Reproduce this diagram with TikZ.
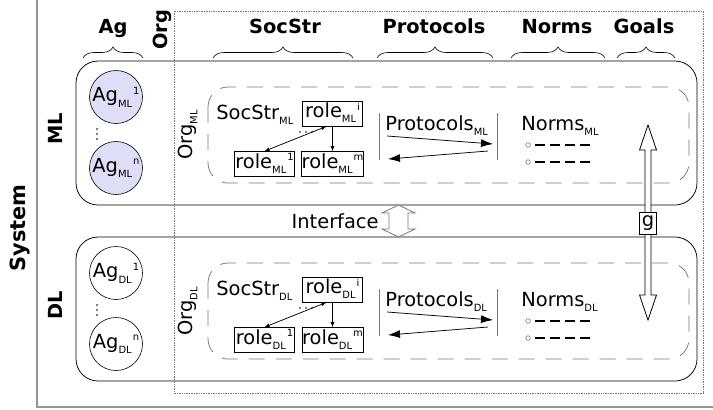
\documentclass[tikz,border=0pt]{standalone}
\usepackage{fontspec}
\setmainfont{DejaVu Sans}
\usetikzlibrary{positioning,calc,decorations.pathreplacing,arrows.meta}

\definecolor{agfill}{RGB}{222,222,247}
\definecolor{framegray}{RGB}{150,150,150}
\definecolor{dashgray}{RGB}{120,120,120}

\newcommand{\subfont}{\fontsize{10}{10}\selectfont}
\newcommand{\lsub}[2]{#1\raisebox{-0.5ex}{\subfont #2}}
\newcommand{\lsup}[3]{#1\raisebox{-0.5ex}{\subfont #2}\raisebox{0.7ex}{\subfont\kern1bp #3}}

\tikzset{every picture/.style={line width=0.75pt}}
\tikzset{
  txt/.style={font=\fontsize{19.5}{21}\selectfont, inner sep=0pt},
  header/.style={font=\fontsize{19.5}{21}\selectfont\bfseries, inner sep=0pt},
  headbrace/.style={decorate, decoration={brace, amplitude=11bp}, line width=0.6bp},
  layer/.style={draw, rounded corners=22bp},
  orgbox/.style={draw=dashgray, dash pattern=on 16bp off 11bp, rounded corners=20bp},
  agent/.style={circle, draw, line width=0.6bp, minimum size=53bp, inner sep=0pt, txt},
  rolebox/.style={draw, line width=0.7bp, minimum width=60bp, minimum height=25bp,
    text height=14bp, text depth=6bp, inner xsep=1bp, inner ysep=0pt, txt},
  barline/.style={dashgray, line width=1bp},
  normline/.style={line width=1.8bp, dash pattern=on 10bp off 5bp},
  blockarrow/.style={draw, fill=white, line width=0.8bp},
}

\begin{document}
\begin{tikzpicture}[x=1bp, y=-1bp]
    \useasboundingbox (0,0) rectangle (713,409);
    \clip (0,0) rectangle (713,409);
    \draw[framegray, line width=2bp] (37,-10) rectangle (725,407);
    \node[header, rotate=90, anchor=base, font=\fontsize{21}{22}\selectfont\bfseries] (system) at (25,228) {System};

    % column headers
    \node[header, anchor=base] (h-ag) at (113,33) {Ag};
    \node[header, rotate=90, anchor=base west] (h-org) at (167,50) {Org};
    \node[header, anchor=base] (h-soc) at (285,33) {SocStr};
    \node[header, anchor=base] (h-prot) at (434,33) {Protocols};
    \node[header, anchor=base] (h-norm) at (557,33) {Norms};
    \node[header, anchor=base] (h-goal) at (644,33) {Goals};
    \draw[headbrace] (83,58) -- (143,58);
    \draw[headbrace] (213,58) -- (353,58);
    \draw[headbrace] (377,58) -- (493,58);
    \draw[headbrace] (511,58) -- (605,58);
    \draw[headbrace] (617,58) -- (675,58);

    % the two layers
    \foreach \lay/\dy/\agcol in {ML/0/agfill, DL/176/white} {
        \draw[layer] (76,61+\dy) rectangle (697,205+\dy);
        \draw[orgbox] (208,87+\dy) rectangle (689,183+\dy);
        \node[header, rotate=90, anchor=base] (lay-\lay) at (62,129+\dy) {\lay};
        \node[agent, fill=\agcol] (ag1-\lay) at (116,97+\dy) {\lsup{Ag}{\lay}{1}};
        \node[agent, fill=\agcol] (agn-\lay) at (116,168+\dy) {\lsup{Ag}{\lay}{n}};
        \foreach \k in {0,1,2}
            \fill (97,129+5*\k+\dy) circle (0.8);
        \node[txt, rotate=90, anchor=base west] (org-\lay) at (192,160+\dy) {\lsub{Org}{\lay}};
        % social structure
        \node[txt, anchor=base west] (soc-\lay) at (216,119+\dy) {\lsub{SocStr}{\lay}};
        \node[rolebox] (roleI-\lay) at (332.5,113.5+\dy) {\lsup{role}{\lay}{i}};
        \node[rolebox] (role1-\lay) at (264.5,164+\dy) {\lsup{role}{\lay}{1}};
        \node[rolebox] (roleM-\lay) at (332.5,164+\dy) {\lsup{role}{\lay}{m}};
        \foreach \k in {0,1,2}
            \fill (300+6*\k,132+\dy) circle (0.9);
        \draw[<->, >={Latex[length=5bp,width=4bp]}] ([xshift=-6bp]roleI-\lay.south) -- (role1-\lay.north);
        \draw[->, >={Latex[length=5bp,width=4bp]}] (roleI-\lay.south) -- (roleM-\lay.north);
        % protocols
        \coordinate (pl-\lay) at (379,113+\dy);
        \coordinate (pr-\lay) at (497,113+\dy);
        \draw[barline] (pl-\lay) -- ++(0,47);
        \draw[barline] (pr-\lay) -- ++(0,47);
        \node[txt, anchor=base west] (prot-\lay) at (385,130+\dy) {\lsub{Protocols}{\lay}};
        \draw[-{Latex[length=12bp,width=8bp]}] ($(pl-\lay)+(8,23)$) -- ($(pr-\lay)+(-4,31)$);
        \draw[-{Latex[length=12bp,width=8bp]}] ($(pr-\lay)+(-9,38)$) -- ($(pl-\lay)+(9,46)$);
        % norms
        \node[txt, anchor=base west] (norm-\lay) at (521,130+\dy) {\lsub{Norms}{\lay}};
        \foreach \yy in {145,162} {
            \draw[dashgray, line width=0.6bp] (528,\yy+\dy) circle (2.3);
            \draw[normline] (535,\yy+\dy) -- (593,\yy+\dy);
        }
    }

    \draw[dashgray, densely dotted, line width=0.7bp] (174,11) rectangle (703,393);

    % interface between the layers
    \node[txt, anchor=base east] (iface) at (379,228) {Interface};
    \coordinate (ifTop) at (398.5,205);
    \coordinate (ifBot) at (398.5,237);
    \draw[blockarrow, draw=dashgray] (ifTop) -- ++(16.5,8) -- ++(-7,0) -- ($(ifBot)+(9.5,-8)$) -- ++(7,0)
        -- (ifBot) -- ++(-16.5,-8) -- ++(7,0) -- ($(ifTop)+(-9.5,8)$) -- ++(-7,0) -- cycle;

    % goals
    \coordinate (goalTop) at (648,125);
    \coordinate (goalBot) at (648,320);
    \draw[blockarrow] (goalTop) -- ++(8.5,25) -- ++(-5.5,0) -- ($(goalBot)+(3,-25)$) -- ++(5.5,0)
        -- (goalBot) -- ++(-8.5,-25) -- ++(5.5,0) -- ($(goalTop)+(-3,25)$) -- ++(-5.5,0) -- cycle;
    \node[draw, fill=white, txt, minimum width=17bp, minimum height=22bp] (g) at (648,223) {g};
\end{tikzpicture}
\end{document}
